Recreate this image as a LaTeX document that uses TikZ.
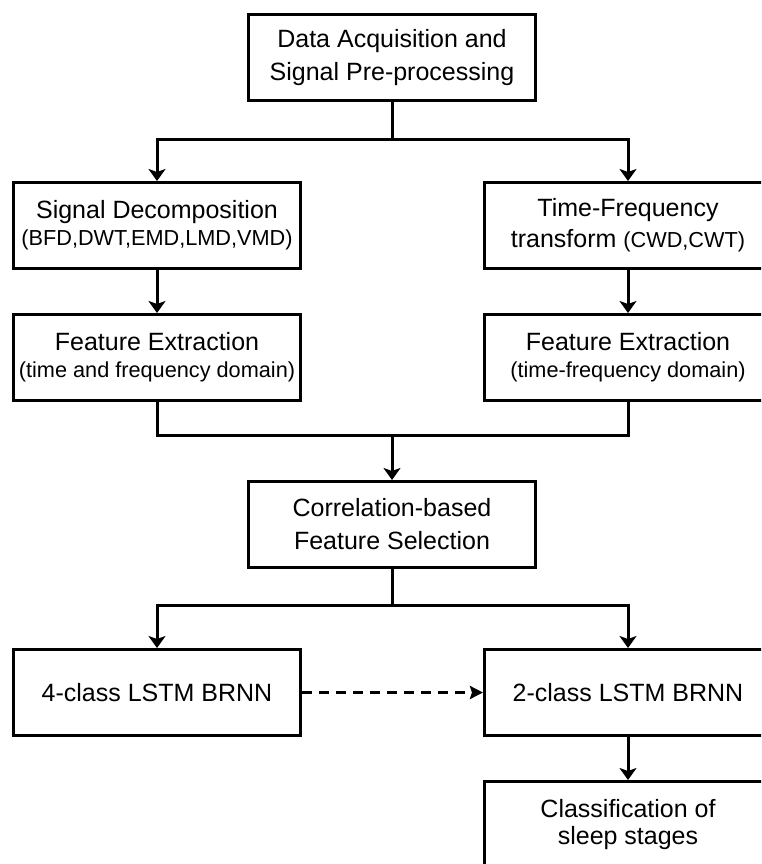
\documentclass[tikz,border=0pt]{standalone}
\usepackage{fontspec}
\setmainfont{Liberation Sans}
\usetikzlibrary{arrows.meta}
\newcommand{\bigtxt}{\fontsize{25}{30}\selectfont}
\newcommand{\smalltxt}{\fontsize{21.7}{26}\selectfont}
\tikzset{
    box/.style = {rectangle, draw=black, line width=3pt, minimum width=287pt, minimum height=86pt, align=center, inner sep=0pt, font=\bigtxt},
    edgen/.style = {-{Stealth[length=12pt,width=17pt,inset=3pt]}, line width=3pt},
    edgel/.style = {line width=3pt},
    edged/.style = {-{Stealth[length=13pt,width=13pt,inset=2pt]}, line width=3pt, dash pattern=on 10pt off 7pt}
}
\begin{document}
\begin{tikzpicture}[x=1pt,y=-1pt]
\useasboundingbox (0,0) rectangle (761,864);
\clip (0,0) rectangle (761,864);
%
\node[box] at (392, 58) (acq) {Data Acquisition and\\[3pt] Signal Pre-processing};
\node[box] at (157,225.5) (dec) {Signal Decomposition\\[-3pt] {\smalltxt (BFD,DWT,EMD,LMD,VMD)}};
\node[box] at (628,225.5) (tft) {Time-Frequency\\[1pt] transform {\smalltxt (CWD,CWT)}};
\node[box] at (157,357.5) (fel) {Feature Extraction\\[-3pt] {\smalltxt (time and frequency domain)}};
\node[box] at (628,357.5) (fer) {Feature Extraction\\[-3pt] {\smalltxt (time-frequency domain)}};
\node[box] at (392,524.5) (cfs) {Correlation-based\\[3pt] Feature Selection};
\node[box] at (157,692.5) (four) {4-class LSTM BRNN};
\node[box] at (628,692.5) (two) {2-class LSTM BRNN};
\node[box] at (628,824.5) (cls) {Classification of\\[-3pt] sleep stages};
%
\coordinate (s1) at (392,139);
\coordinate (s2) at (392,435);
\coordinate (s3) at (392,605);
%
\draw[edgel] (acq.south) -- (s1);
\draw[edgen] (s1) -| (dec.north);
\draw[edgen] (s1) -| (tft.north);
\draw[edgen] (dec) -- (fel);
\draw[edgen] (tft) -- (fer);
\draw[edgel] (fel.south) |- (s2);
\draw[edgel] (fer.south) |- (s2);
\draw[edgen] (s2) -- (cfs);
\draw[edgel] (cfs.south) -- (s3);
\draw[edgen] (s3) -| (four.north);
\draw[edgen] (s3) -| (two.north);
\draw[edged] (four) -- (two);
\draw[edgen] (two) -- (cls);
\end{tikzpicture}
\end{document}
